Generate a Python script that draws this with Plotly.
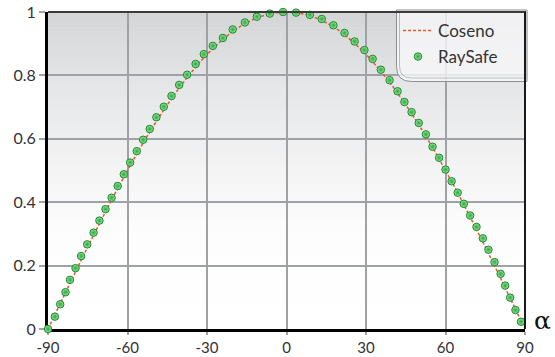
import plotly.graph_objects as go

# ---- data ----
cos_deg = [-90, -85, -80, -75, -70, -65, -60, -55, -50, -45, -40, -35, -30, -25, -20, -15, -10, -5, 0,
           5, 10, 15, 20, 25, 30, 35, 40, 45, 50, 55, 60, 65, 70, 75, 80, 85, 90]
cos_val = [0.0, 0.087, 0.174, 0.259, 0.342, 0.423, 0.5, 0.574, 0.643, 0.707, 0.766, 0.819, 0.866, 0.906,
           0.940, 0.966, 0.985, 0.996, 1.0,
           0.996, 0.985, 0.966, 0.940, 0.906, 0.866, 0.819, 0.766, 0.707, 0.643, 0.574, 0.5, 0.423, 0.342,
           0.259, 0.174, 0.087, 0.0]

ray_deg = [-90, -87.4, -85.4, -83.4, -81.7, -79.6, -77.5, -75.2, -72.8, -70.6, -68.3, -66.0, -63.7, -61.4,
           -59.0, -56.5, -54.1, -51.6, -49.1, -46.3, -43.4, -40.5, -37.5, -34.3, -31.2, -27.8, -24.0, -20.3,
           -15.7, -11.2, -6.3, -1.3, 3.6, 8.8, 13.3, 17.7, 21.9, 25.7, 29.4, 32.5, 35.6, 38.9, 41.9, 44.5,
           47.2, 49.9, 52.6, 55.1, 57.6, 60.0, 62.3, 64.6, 66.9, 69.3, 71.7, 74.1, 76.2, 78.5, 80.8, 82.5,
           84.4, 86.4, 88.5]
ray_val = [0.0, 0.039, 0.078, 0.116, 0.155, 0.192, 0.230, 0.267, 0.304, 0.342, 0.378, 0.414, 0.451, 0.488,
           0.525, 0.561, 0.597, 0.631, 0.668, 0.701, 0.735, 0.770, 0.802, 0.836, 0.867, 0.893, 0.918, 0.945,
           0.967, 0.985, 0.995, 1.0, 0.998, 0.991, 0.978, 0.958, 0.934, 0.907, 0.880, 0.852, 0.818, 0.785,
           0.750, 0.716, 0.684, 0.650, 0.614, 0.575, 0.540, 0.503, 0.466, 0.430, 0.395, 0.358, 0.322, 0.286,
           0.250, 0.211, 0.174, 0.137, 0.099, 0.060, 0.023]

x_ticks = [-90, -60, -30, 0, 30, 60, 90]
y_ticks = [0, 0.2, 0.4, 0.6, 0.8, 1]
y_tick_text = ["0", "0.2", "0.4", "0.6", "0.8", "1"]

FONT = "Lato"
W, H = 555, 357
L, R, T, B = 48, 30, 12, 28
PW, PH = W - L - R, H - T - B

fig = go.Figure()
fig.add_trace(go.Scatter(
    x=cos_deg, y=cos_val, mode="lines", name="Coseno", legend="legend", showlegend=True,
    line=dict(color="#f0542a", width=1.5, dash="3px,2px", shape="spline"),
    cliponaxis=False))
fig.add_trace(go.Scatter(
    x=ray_deg, y=ray_val, mode="markers", name="RaySafe", legend="legend2", showlegend=True,
    marker=dict(size=7.5, color="#9fe39b", gradient=dict(type="radial", color="#27a83e"),
                line=dict(color="#1a8a30", width=1)),
    cliponaxis=False))

shapes = []
stops = [(0.0, (255, 255, 255)), (0.3, (253, 253, 253)), (0.5, (244, 244, 245)),
         (0.75, (230, 231, 232)), (1.0, (212, 213, 215))]
def col(t):
    for i in range(len(stops) - 1):
        a, ca = stops[i]
        b, cb = stops[i + 1]
        if a <= t <= b:
            f = (t - a) / (b - a)
            return "rgb(%d,%d,%d)" % tuple(round(ca[k] + (cb[k] - ca[k]) * f) for k in range(3))
    return "rgb(255,255,255)"
N = 80
for i in range(N):
    y0, y1 = i / N, (i + 1) / N
    shapes.append(dict(type="rect", xref="paper", yref="paper", x0=0, x1=1, y0=y0, y1=y1 + 0.002,
                       fillcolor=col((y0 + y1) / 2), line=dict(width=0), layer="below"))

def px2x(px):
    return (px - L) / PW
def py2y(py):
    return (H - B - py) / PH
def box(x0p, y0p, r):
    x0, x1 = px2x(x0p), px2x(527)
    yb, yt = py2y(y0p), py2y(10)
    rx, ry = r / PW, r / PH
    return (f"M {x0},{yt} L {x0},{yb + ry} Q {x0},{yb} {x0 + rx},{yb} "
            f"L {x1},{yb} L {x1},{yt}")
shapes.append(dict(type="path", xref="paper", yref="paper", path=box(396.5, 81.5, 15) + " Z",
                   fillcolor="rgba(248,248,249,0.8)", line=dict(color="#8c8f93", width=1), layer="above"))
shapes.append(dict(type="path", xref="paper", yref="paper", path=box(399.5, 78, 12),
                   line=dict(color="#b9bcbf", width=1), layer="above"))
shapes.append(dict(type="line", xref="paper", yref="paper", x0=0, x1=1 + 1 / PW, y0=1, y1=1,
                   line=dict(color="#3a3a3a", width=2), layer="above"))
shapes.append(dict(type="line", xref="paper", yref="paper", x0=1, x1=1, y0=0, y1=1,
                   line=dict(color="#1a1a1a", width=2), layer="above"))

fig.update_layout(
    width=W, height=H,
    margin=dict(l=L, r=R, t=T, b=B, pad=0),
    paper_bgcolor="white", plot_bgcolor="white",
    font=dict(family=FONT, size=16, color="#333333"),
    shapes=shapes,
    showlegend=True,
    legend=dict(x=px2x(398), y=py2y(31), xanchor="left", yanchor="middle",
                bgcolor="rgba(0,0,0,0)", font=dict(family=FONT, size=17, color="#333333")),
    legend2=dict(x=px2x(398), y=py2y(57), xanchor="left", yanchor="middle",
                 bgcolor="rgba(0,0,0,0)", font=dict(family=FONT, size=17, color="#333333")),
    annotations=[dict(text="α", xref="paper", yref="paper", x=1, y=py2y(320), xshift=7,
                      xanchor="left", yanchor="middle", showarrow=False,
                      font=dict(family="DejaVu Serif", size=25, color="#111111"))],
)
fig.update_xaxes(range=[-90, 90], tickvals=x_ticks, ticktext=[str(v) for v in x_ticks],
                 tickfont=dict(size=15),
                 showgrid=True, gridcolor="#9ea2a7", gridwidth=2, zeroline=False,
                 showline=True, linecolor="black", linewidth=3,
                 ticks="outside", ticklen=3, tickwidth=2, tickcolor="#9ea2a7",
                 layer="below traces", automargin=False)
fig.update_yaxes(range=[0, 1], tickvals=y_ticks, ticktext=y_tick_text,
                 showgrid=True, gridcolor="#9ea2a7", gridwidth=2, zeroline=False,
                 showline=True, linecolor="black", linewidth=3,
                 ticks="outside", ticklen=6, tickwidth=2, tickcolor="#9ea2a7",
                 layer="below traces", automargin=False)

fig.write_html("out.html", config={"displayModeBar": False},
               post_script="document.body.style.margin='0';document.body.style.overflow='hidden';")
